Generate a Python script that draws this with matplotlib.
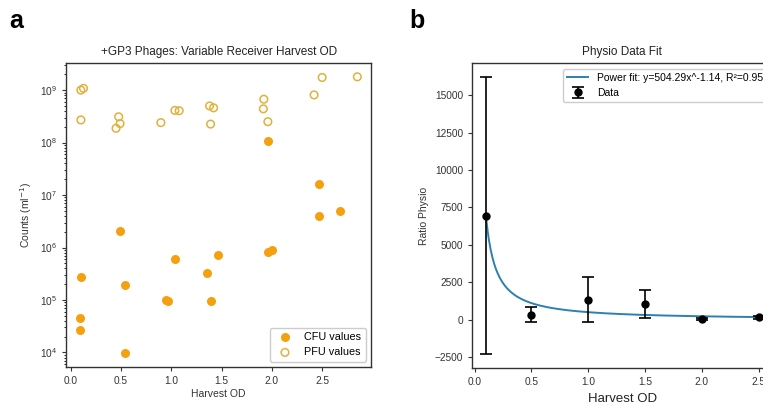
import matplotlib
matplotlib.use("Agg")
import matplotlib.pyplot as plt
import numpy as np

plt.rcParams['font.family'] = ['Liberation Sans', 'DejaVu Sans']

# panel a: counts vs harvest OD
cfu_od = [0.10, 0.09, 0.09, 0.49, 0.54, 0.54, 0.95, 0.97, 1.04, 1.35, 1.39, 1.465,
          1.96, 2.00, 1.96, 2.47, 2.47, 2.68]
cfu_counts = [2.7e5, 4.5e4, 2.7e4, 2.05e6, 1.95e5, 9.7e3, 1.0e5, 9.6e4, 6.0e5, 3.3e5, 9.7e4, 7.2e5,
              8.1e5, 9.0e5, 1.07e8, 1.6e7, 4.0e6, 5.0e6]
pfu_od = [0.10, 0.126, 0.10, 0.45, 0.476, 0.49, 0.896, 1.035, 1.078, 1.38, 1.42, 1.39,
          1.92, 1.915, 1.96, 2.42, 2.50, 2.85]
pfu_counts = [1.0e9, 1.08e9, 2.7e8, 1.87e8, 3.1e8, 2.3e8, 2.4e8, 4.1e8, 4.05e8, 5.0e8, 4.6e8, 2.25e8,
              6.7e8, 4.4e8, 2.5e8, 8.1e8, 1.74e9, 1.79e9]

# panel b: ratio data and power fit
od_b = [0.1, 0.5, 1.0, 1.5, 2.0, 2.5]
ratio_mean = [6950, 330, 1340, 1050, 30, 170]
ratio_err = [9250, 500, 1500, 930, 60, 90]
fit_a = 504.29
fit_b = -1.14

fig = plt.figure(figsize=(7.63, 4.05), dpi=100)

spine_col = '#333333'

ax1 = fig.add_axes([0.0865, 0.0938, 0.400, 0.7506])
ax1.scatter(cfu_od, cfu_counts, s=30, color='#f5a00f', label='CFU values', zorder=3)
ax1.scatter(pfu_od, pfu_counts, s=30, facecolors='none', edgecolors='#e2b13c',
            linewidths=1.1, label='PFU values', zorder=3)
ax1.set_yscale('log')
ax1.set_title('+GP3 Phages: Variable Receiver Harvest OD', fontsize=8.5, color='#222222')
ax1.set_xlabel('Harvest OD', fontsize=7.5, color='#333333', labelpad=2)
ax1.set_ylabel('Counts (ml$^{-1}$)', fontsize=7.5, color='#333333')
ax1.set_xticks([0.0, 0.5, 1.0, 1.5, 2.0, 2.5])
ax1.tick_params(labelsize=7.3, colors='#333333', length=3)
ax1.tick_params(which='minor', length=1.5)
ax1.legend(loc='lower right', fontsize=7.8, framealpha=1, edgecolor='#cccccc')

ax2 = fig.add_axes([0.619, 0.0914, 0.393, 0.752])
xx = np.linspace(min(od_b), max(od_b), 300)
ax2.plot(xx, fit_a * xx ** fit_b, color='#2d80b0', lw=1.4,
         label='Power fit: y=%.2fx^%.2f, R²=0.95' % (fit_a, fit_b))
ax2.errorbar(od_b, ratio_mean, yerr=ratio_err, fmt='o', color='black', ms=5,
             capsize=4, elinewidth=1.2, capthick=1.2, label='Data', zorder=3)
ax2.set_title('Physio Data Fit', fontsize=8.5, color='#222222')
ax2.set_xlabel('Harvest OD', fontsize=9.5, color='#222222')
ax2.set_ylabel('Ratio Physio', fontsize=7.5, color='#333333')
ax2.set_xticks([0.0, 0.5, 1.0, 1.5, 2.0, 2.5])
ax2.tick_params(labelsize=7.3, colors='#333333', length=3)
ax2.legend(loc='upper right', fontsize=7.5, framealpha=1, edgecolor='#cccccc')

for ax in (ax1, ax2):
    for sp in ax.spines.values():
        sp.set_color(spine_col)
        sp.set_linewidth(1.0)

fig.text(0.012, 0.93, 'a', fontsize=18, fontweight='bold')
fig.text(0.536, 0.93, 'b', fontsize=18, fontweight='bold')

fig.savefig('out.png', dpi=100)
